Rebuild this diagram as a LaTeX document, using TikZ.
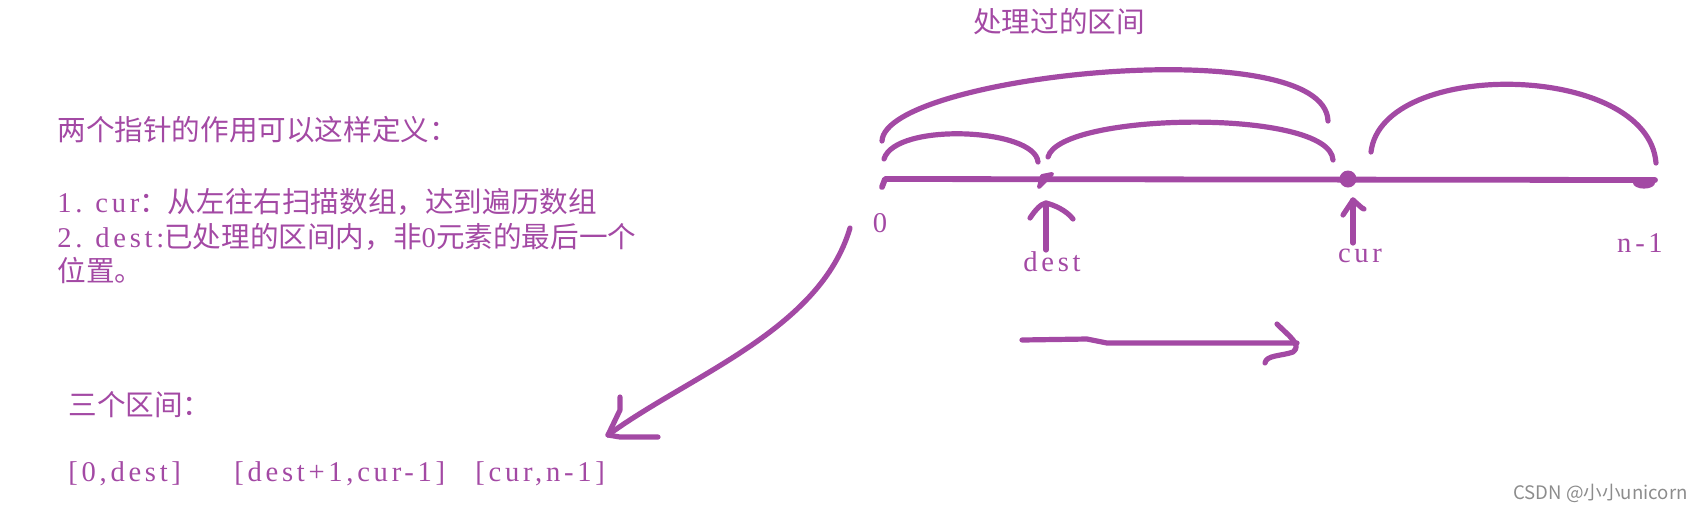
\documentclass[tikz,border=0pt]{standalone}
\usepackage{fontspec}
\setmainfont{Liberation Serif}[LetterSpace=13]
\newfontfamily\cjk{Noto Sans CJK SC}
\usetikzlibrary{positioning}
\definecolor{ink}{RGB}{163,73,164}
\definecolor{wmgray}{RGB}{140,140,140}

\begin{document}
\begin{tikzpicture}[x=0.5pt,y=-0.5pt,
  pen/.style={draw=ink,line width=2.6pt,line cap=round,line join=round},
  txt/.style={text=ink,inner sep=0pt,font=\fontsize{14.3}{16}\selectfont},
  lbl/.style={txt,anchor=west}]
 \useasboundingbox (0,0) rectangle (1697,511);

 % notes on the left
 \node[lbl] (def) at (57,130) {\cjk 两个指针的作用可以这样定义：};
 \node[lbl] (p1) at (57,202) {1.\hspace{0.45em}cur{\cjk ：从左往右扫描数组，达到遍历数组}};
 \node[lbl] (p2) at (57,237) {2.\hspace{0.45em}dest:{\cjk 已处理的区间内，非}0{\cjk 元素的最后一个}};
 \node[lbl] (p3) at (57,270) {\cjk 位置。};
 \node[lbl] (three) at (68,405) {\cjk 三个区间：};
 \node[lbl] (ivA) at (68,474) {[0,dest]};
 \node[lbl] (ivB) at (234,474) {[dest+1,cur-1]};
 \node[lbl] (ivC) at (475,474) {[cur,n-1]};

 % number line
 \coordinate (hookL) at (882,187);
 \coordinate (lineL) at (885,179);
 \coordinate (lineR) at (1655,180);
 \draw[pen,line width=2.9pt] (hookL) -- (lineL) -- (lineR);
 \draw[pen,line width=2pt] (1039,187) -- (1042,176) -- (1052,174) -- cycle;
 \node[circle,fill=ink,minimum size=8.5pt,inner sep=0pt] (curP) at (1348,179) {};
 \coordinate (endP) at (1644,183);
 \fill[ink] (endP) ellipse [x radius=5.5pt,y radius=2.8pt];

 % spans
 \coordinate (a1s) at (884,159); \coordinate (a1e) at (1038,162);
 \coordinate (a2s) at (1048,157); \coordinate (a2e) at (1333,160);
 \coordinate (a3s) at (882,141); \coordinate (a3e) at (1328,121);
 \coordinate (a4s) at (1371,152); \coordinate (a4e) at (1656,163);
 \draw[pen] (a1s) .. controls (895,122) and (1035,128) .. (a1e);
 \draw[pen] (a2s) .. controls (1060,112) and (1330,108) .. (a2e);
 \draw[pen] (a3s) .. controls (885,75) and (1325,30) .. (a3e);
 \draw[pen] (a4s) .. controls (1382,58) and (1648,62) .. (a4e);
 \node[txt] (title) at (1059,22) {\cjk 处理过的区间};

 % pointers
 \coordinate (destTail) at (1046,250); \coordinate (destTip) at (1046,203);
 \draw[pen] (destTail) -- (destTip);
 \draw[pen] (1030,218) .. controls (1036,209) and (1041,204) .. (destTip)
   .. controls (1054,205) and (1066,210) .. (1073,219);
 \coordinate (curTail) at (1353,243); \coordinate (curTip) at (1353,200);
 \draw[pen] (curTail) -- (curTip);
 \draw[pen] (1343,215) -- (curTip) -- (1362,208) -- (1364,209);

 \node[txt,anchor=base] (zeroL) at (880,232) {0};
 \node[txt,below=0.5pt of destTail,xshift=3pt] (destL) {dest};
 \node[txt,below=3pt of curTail,xshift=3.5pt] (curL) {cur};
 \node[txt,anchor=base] (lastL) at (1640,252) {n-1};

 % hand-drawn arrows
 \coordinate (swStart) at (850,228); \coordinate (swTip) at (608,435);
 \draw[pen] (swStart) .. controls (820,330) and (690,375) .. (swTip);
 \draw[pen] (620,397) -- (620,410) -- (swTip) -- (620,437) -- (658,437);
 \coordinate (goL) at (1022,340); \coordinate (goR) at (1297,343);
 \draw[pen] (goL) -- (1087,339) -- (1107,343) -- (goR);
 \draw[pen] (1277,324) .. controls (1290,337) and (1302,345) .. (1293,352)
   .. controls (1282,356) and (1266,355) .. (1265,363);

 \node[anchor=east,inner sep=0pt,text=wmgray,
   font=\cjk\fontsize{9.3}{11}\selectfont] (wm) at (1688,493) {CSDN @小小unicorn};
\end{tikzpicture}
\end{document}
